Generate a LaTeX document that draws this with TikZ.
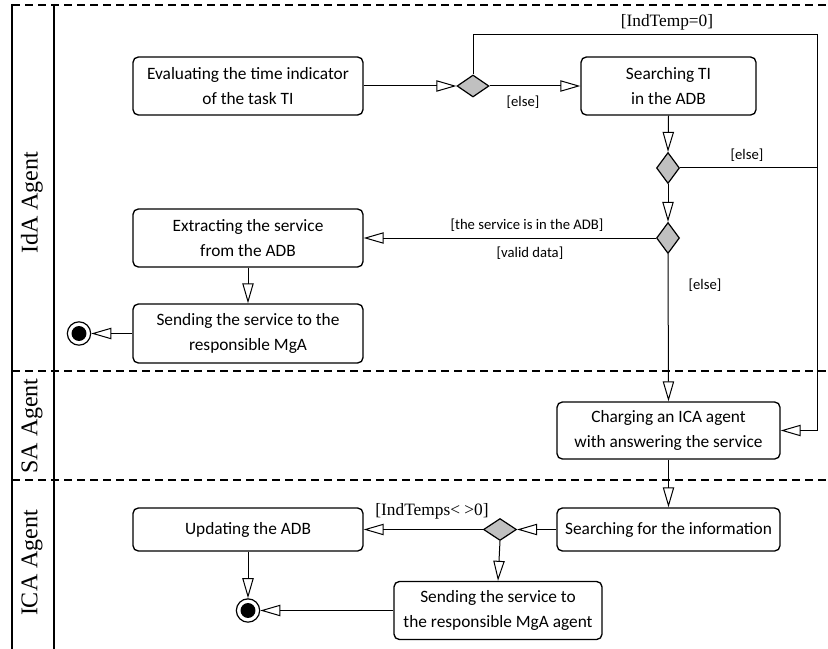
\documentclass[tikz,border=0pt]{standalone}
\usepackage{fontspec}
\setmainfont{Carlito}
\newfontfamily\lanefont{Liberation Serif}
\usetikzlibrary{arrows.meta,shapes.geometric}

\definecolor{decisiongray}{RGB}{192,192,192}

\begin{document}
\begin{tikzpicture}[x=0.75pt,y=-0.75pt,
  act/.style n args={2}{draw, line width=1pt, rounded corners=4pt,
    minimum width=#1*0.75pt, minimum height=#2*0.75pt, inner sep=0pt,
    align=center, font=\fontsize{13}{18.5}\selectfont},
  decision/.style n args={2}{diamond, draw, line width=0.9pt, fill=decisiongray,
    minimum width=#1*0.75pt, minimum height=#2*0.75pt, inner sep=0pt},
  final/.style={circle, draw, line width=0.9pt, fill=white,
    minimum size=17.5pt, inner sep=0pt},
  flow/.style={line width=0.75pt,
    -{Triangle[open, length=15pt, width=8.5pt, line width=0.75pt]}},
  plain/.style={line width=0.75pt},
  guard/.style={font=\fontsize{11}{13}\selectfont, inner sep=0pt},
  sguard/.style={font=\lanefont\fontsize{13}{15}\selectfont, inner sep=0pt},
  lanelabel/.style={rotate=90, font=\lanefont\fontsize{18}{20}\selectfont, inner sep=0pt},
  lanesep/.style={line width=1.2pt, dash pattern=on 6pt off 3.75pt},
  laneedge/.style={line width=1.1pt}
]
\useasboundingbox (0,0) rectangle (828,649);

% swimlane frame
\draw[lanesep] (12,5) -- (828,5);
\draw[lanesep] (12,371) -- (828,371);
\draw[lanesep] (12,480) -- (828,480);
\draw[laneedge] (12,4) -- (12,649);
\draw[laneedge] (54,4) -- (54,649);

\node[lanelabel] (laneIdA) at (32,203) {IdA Agent};
\node[lanelabel] (laneSA)  at (32,426) {SA Agent};
\node[lanelabel] (laneICA) at (32,563) {ICA Agent};

% activities
\node[act={230}{58}] (b1) at (248,86) {Evaluating the time indicator\\of the task TI};
\node[act={175}{58}] (b2) at (668.5,86) {Searching TI\\in the ADB};
\node[act={230}{58}] (b3) at (248,238) {Extracting the service\\from the ADB};
\node[act={230}{59}] (b4) at (248,333.5) {Sending the service to the\\responsible MgA};
\node[act={223}{57}] (b5) at (668.5,430.5) {Charging an ICA agent\\with answering the service};
\node[act={223}{43}] (b6) at (668.5,529.5) {Searching for the information};
\node[act={230}{43}] (b7) at (248,529.5) {Updating the ADB};
\node[act={208}{58}] (b8) at (498,610.5) {Sending the service to\\the responsible MgA agent};

% decisions
\node[decision={32}{22}] (d1) at (473,86) {};
\node[decision={23}{31}] (d2) at (668,168) {};
\node[decision={23}{31}] (d3) at (668,238) {};
\node[decision={33}{22}] (d4) at (500,529.5) {};

% final nodes
\node[final] (f1) at (79,333.5) {};
\fill (f1.center) circle[radius=5.6pt];
\node[final] (f2) at (248,610.5) {};
\fill (f2.center) circle[radius=5.6pt];

% flows
\coordinate (loop) at (817,35);
\draw[flow] (b1.east) -- (d1.west);
\draw[flow] (d1.east) -- (b2.west);
\draw[flow] (d1.north) -- (d1.north |- loop) -- (loop) -- (loop |- b5.east) -- (b5.east);
\draw[flow] (b2.south) -- (d2.north);
\draw[plain] (d2.east) -- (d2.east -| loop);
\draw[flow] (d2.south) -- (d3.north);
\draw[flow] (d3.west) -- (b3.east);
\draw[flow] (d3.south) -- (b5.north);
\draw[flow] (b3.south) -- (b4.north);
\draw[flow] (b4.west) -- (f1);
\draw[flow] (b5.south) -- (b6.north);
\draw[flow] (b6.west) -- (d4.east);
\draw[flow] (d4.west) -- (b7.east);
\draw[flow] (d4.south) -- (b8.north);
\draw[flow] (b7.south) -- (f2);
\draw[flow] (b8.west) -- (f2);

% guards
\node[sguard] (gzero) at (667,22) {[IndTemp=0]};
\node[guard] (gelse1) at (523,102) {[else]};
\node[guard] (gelse2) at (747,155) {[else]};
\node[guard] (ginadb) at (527,225) {[the service is in the ADB]};
\node[guard] (gvalid) at (530,253) {[valid data]};
\node[guard] (gelse3) at (705,285) {[else]};
\node[sguard] (gnz) at (432,511) {[IndTemps< >0]};
\end{tikzpicture}
\end{document}
